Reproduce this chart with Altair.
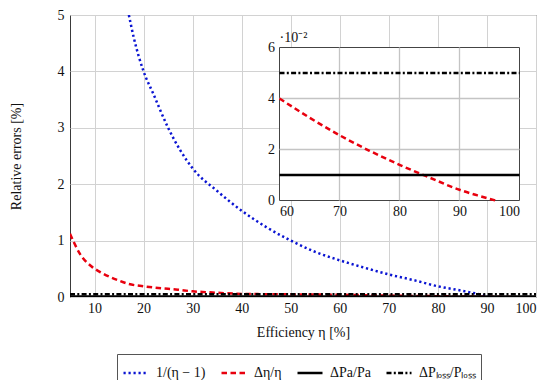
import altair as alt
import pandas as pd

# ---------------- data ----------------
series_names = ["1/(η − 1)", "Δη/η", "ΔPa/Pa", "ΔPₗₒₛₛ/Pₗₒₛₛ"]
series_colors = ["#0a14d2", "#e8000e", "#000000", "#000000"]
series_dashes = [[2.2, 2.8], [5.5, 3.5], [1, 0], [5, 2.3, 2, 2.3]]

# main panel (relative errors in %)
eta_blue = [17, 18, 20, 22, 25, 30, 35, 40, 45, 50, 55, 60, 65, 70, 75, 80, 85, 90, 91]
blue_vals = [5.0, 4.6, 4.0, 3.6, 3.0, 2.28, 1.88, 1.53, 1.24, 1.0, 0.8, 0.65, 0.52, 0.40,
             0.30, 0.19, 0.11, 0.02, 0.0]

eta_red = [5, 7, 9.4, 11, 13, 15, 17, 20, 23, 27, 30, 33, 37, 40, 45, 50, 55,
           60, 65, 70, 75, 80, 85, 90, 93, 96]
red_vals = [1.12, 0.77, 0.54, 0.45, 0.36, 0.29, 0.23, 0.19, 0.16, 0.13, 0.10, 0.085, 0.065,
            0.055, 0.05, 0.047, 0.044, 0.04, 0.0325, 0.0256, 0.0195, 0.014, 0.009, 0.0042,
            0.002, 0.0]

eta_const = [5, 100]
pa_vals = [0.01, 0.01]
ploss_vals = [0.05, 0.05]

# inset (values x 10^-2 %)
eta_red_inset = [60, 65, 70, 75, 80, 85, 90, 93, 96]
red_inset = [4.0, 3.25, 2.56, 1.95, 1.4, 0.9, 0.42, 0.2, 0.0]
eta_const_inset = [60, 100]
pa_inset = [1, 1]
ploss_inset = [5, 5]

main_x_ticks = [10, 20, 30, 40, 50, 60, 70, 80, 90, 100]
main_y_ticks = [0, 1, 2, 3, 4, 5]
inset_x_ticks = [60, 70, 80, 90, 100]
inset_y_ticks = [0, 2, 4, 6]
inset_grid_x = [70, 80, 90]
inset_grid_y = [2, 4]
inset_factor = "·10⁻²"


def frame(pairs):
    rows = []
    for name, xs, ys in pairs:
        for x, y in zip(xs, ys):
            rows.append({"eta": x, "value": y, "series": name})
    return pd.DataFrame(rows)


main_df = frame([
    (series_names[0], eta_blue, blue_vals),
    (series_names[1], eta_red, red_vals),
    (series_names[2], eta_const, pa_vals),
    (series_names[3], eta_const, ploss_vals),
])
inset_df = frame([
    (series_names[1], eta_red_inset, red_inset),
    (series_names[2], eta_const_inset, pa_inset),
    (series_names[3], eta_const_inset, ploss_inset),
])

FONT = "Liberation Serif"
GRID = "#d2d2d2"
INSET_GRID = "#c4c4c4"
TXT = "#111111"
W, H = 466, 282
IN_BOTTOM, IN_TOP = 185.5, 32.5   # inset frame inside the plot area (pixels from plot top)
IN_LEFT, IN_RIGHT = 209.5, 449.5

legend = alt.Legend(
    title=None, orient="none", legendX=47, legendY=339, direction="horizontal",
    columns=4, symbolType="stroke", symbolSize=625, symbolStrokeWidth=2.5,
    labelFont=FONT, labelFontSize=14, labelColor=TXT, labelOffset=6,
    columnPadding=10, padding=5, strokeColor="#555", fillColor="white",
)
color = alt.Color("series:N", scale=alt.Scale(domain=series_names, range=series_colors),
                  legend=legend)
dash = alt.StrokeDash("series:N", scale=alt.Scale(domain=series_names, range=series_dashes),
                      legend=legend)

# ---------------- main panel ----------------
main_x = alt.X("eta:Q", scale=alt.Scale(domain=[5, 100], nice=False, zero=False),
               axis=alt.Axis(values=main_x_ticks, title="Efficiency η [%]", grid=True,
                             gridColor=GRID, domain=False, ticks=False, labelPadding=4,
                             labelFont=FONT, labelFontSize=14, labelColor=TXT,
                             titleFont=FONT, titleFontSize=14, titleFontWeight="normal",
                             titleColor=TXT, titleY=28))
main_y = alt.Y("value:Q", scale=alt.Scale(domain=[0, 5], nice=False, zero=False),
               axis=alt.Axis(values=main_y_ticks, title="Relative errors [%]", grid=True,
                             gridColor=GRID, domain=False, ticks=False, labelPadding=6,
                             labelFont=FONT, labelFontSize=14, labelColor=TXT,
                             titleFont=FONT, titleFontSize=14, titleFontWeight="normal",
                             titleColor=TXT, titleX=-47, titleY=H / 2))

main = alt.Chart(main_df).mark_line(strokeWidth=2.5, interpolate="monotone", clip=True).encode(
    x=main_x, y=main_y, color=color, strokeDash=dash, order="eta:Q"
)

# ---------------- inset ----------------
def ix():
    return alt.Scale(domain=[60, 100], range=[IN_LEFT, IN_RIGHT], nice=False, zero=False)


def iy():
    return alt.Scale(domain=[0, 6], range=[IN_BOTTOM, IN_TOP], nice=False, zero=False)


box_df = pd.DataFrame({"x0": [60], "x1": [100], "y0": [0], "y1": [6]})
box = alt.Chart(box_df).mark_rect(fill="white", stroke="#444", strokeWidth=1).encode(
    x=alt.X("x0:Q", scale=ix(),
            axis=alt.Axis(orient="bottom", offset=-(H - IN_BOTTOM), values=inset_x_ticks,
                          title=None, grid=False, domain=False, ticks=False, labelPadding=4,
                          labelFont=FONT, labelFontSize=14, labelColor=TXT, zindex=1)),
    x2=alt.X2("x1"),
    y=alt.Y("y0:Q", scale=iy(),
            axis=alt.Axis(orient="left", offset=-IN_LEFT, values=inset_y_ticks, title=None,
                          grid=False, domain=False, ticks=False, labelPadding=5,
                          labelFont=FONT, labelFontSize=14, labelColor=TXT, zindex=1)),
    y2=alt.Y2("y1"),
)

gx_df = pd.DataFrame({"gx": inset_grid_x, "lo": [0] * len(inset_grid_x),
                      "hi": [6] * len(inset_grid_x)})
gx = alt.Chart(gx_df).mark_rule(color=INSET_GRID, strokeWidth=1.3).encode(
    x=alt.X("gx:Q", scale=ix(), axis=None),
    y=alt.Y("lo:Q", scale=iy(), axis=None),
    y2=alt.Y2("hi"),
)
gy_df = pd.DataFrame({"gy": inset_grid_y, "lo": [60] * len(inset_grid_y),
                      "hi": [100] * len(inset_grid_y)})
gy = alt.Chart(gy_df).mark_rule(color=INSET_GRID, strokeWidth=1.3).encode(
    y=alt.Y("gy:Q", scale=iy(), axis=None),
    x=alt.X("lo:Q", scale=ix(), axis=None),
    x2=alt.X2("hi"),
)

inset_lines = alt.Chart(inset_df).mark_line(strokeWidth=2.5, interpolate="monotone").encode(
    x=alt.X("eta:Q", scale=ix(), axis=None),
    y=alt.Y("value:Q", scale=iy(), axis=None),
    color=color, strokeDash=dash, order="eta:Q",
)

factor = alt.Chart(pd.DataFrame({"t": [inset_factor], "xx": [60], "yy": [6]})).mark_text(
    align="left", baseline="alphabetic", dx=0, dy=-6, font=FONT, fontSize=14, color=TXT
).encode(
    x=alt.X("xx:Q", scale=ix(), axis=None),
    y=alt.Y("yy:Q", scale=iy(), axis=None),
    text="t:N",
)

chart = alt.layer(main, box, gx, gy, inset_lines, factor).resolve_scale(
    x="independent", y="independent"
).properties(
    width=W, height=H,
    autosize=alt.AutoSizeParams(type="none"),
    padding={"left": 62, "top": 7, "right": 6, "bottom": 83},
).configure_view(stroke="#3a3a3a", strokeWidth=1)

chart.save("out.html", embed_options={"renderer": "svg", "actions": False})
